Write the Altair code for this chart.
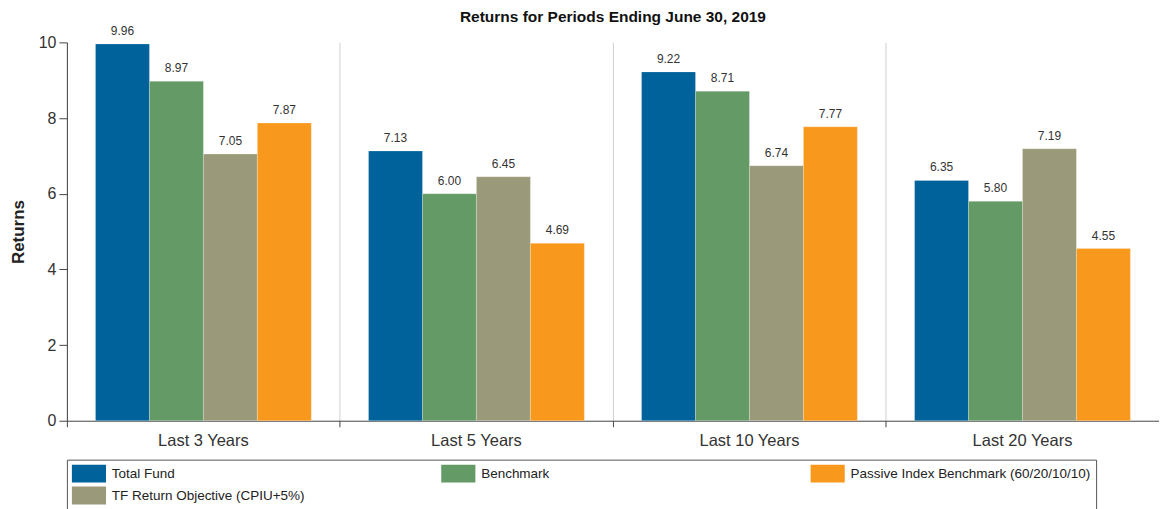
import altair as alt
import pandas as pd

periods = ["Last 3 Years", "Last 5 Years", "Last 10 Years", "Last 20 Years"]
series = [
    "Total Fund",
    "Benchmark",
    "TF Return Objective (CPIU+5%)",
    "Passive Index Benchmark (60/20/10/10)",
]
total_fund = [9.96, 7.13, 9.22, 6.35]
benchmark = [8.97, 6.00, 8.71, 5.80]
tf_objective = [7.05, 6.45, 6.74, 7.19]
passive = [7.87, 4.69, 7.77, 4.55]
series_colors = ["#00629B", "#649A65", "#9A9A7A", "#F8991E"]
y_ticks = [0, 2, 4, 6, 8, 10]

values_by_series = [total_fund, benchmark, tf_objective, passive]
rows = []
for s, vals in zip(series, values_by_series):
    for p, v in zip(periods, vals):
        rows.append({"Period": p, "Series": s, "Return": v})
df = pd.DataFrame(rows)

legend_order = [series[0], series[1], series[3], series[2]]
legend_colors = [series_colors[0], series_colors[1], series_colors[3], series_colors[2]]

FONT = "Liberation Sans"

x_enc = alt.X(
    "Period:N",
    sort=periods,
    scale=alt.Scale(paddingInner=0, paddingOuter=0),
    axis=alt.Axis(
        title=None,
        labelAngle=0,
        bandPosition=0,
        grid=True,
        gridColor="#d0d0d0",
        gridWidth=1,
        ticks=True,
        tickSize=6,
        tickColor="#444",
        domainColor="#444",
        labelFontSize=16.5,
        labelFont=FONT,
        labelColor="#333",
        labelPadding=6,
    ),
)
xoff_enc = alt.XOffset(
    "Series:N", sort=series, scale=alt.Scale(paddingOuter=0.53, paddingInner=0)
)
y_enc = alt.Y(
    "Return:Q",
    scale=alt.Scale(domain=[0, 10], nice=False),
    axis=alt.Axis(
        title="Returns",
        values=y_ticks,
        grid=False,
        tickSize=8,
        tickColor="#444",
        domainColor="#444",
        labelFontSize=16,
        labelFont=FONT,
        labelColor="#333",
        labelPadding=3,
        titleFont=FONT,
        titleFontSize=17,
        titleFontWeight="bold",
        titleColor="#222",
        titlePadding=11,
    ),
)

bars = alt.Chart(df).mark_bar(stroke="white", strokeWidth=0.4, strokeOpacity=0.6).encode(
    x=x_enc,
    xOffset=xoff_enc,
    y=y_enc,
    color=alt.Color(
        "Series:N",
        scale=alt.Scale(domain=legend_order, range=legend_colors),
        legend=alt.Legend(
            title=None,
            orient="none",
            legendX=0,
            legendY=418,
            direction="horizontal",
            columns=3,
            gridAlign="all",
            columnPadding=89,
            rowPadding=4,
            symbolType="M-1,-1H2.8V1H-1Z",
            symbolSize=324,
            symbolStrokeWidth=0,
            symbolOpacity=1,
            labelFont=FONT,
            labelFontSize=13.5,
            labelColor="#222",
            labelOffset=22,
            labelLimit=400,
            padding=5,
            strokeColor="#555",
        ),
    ),
)

labels = alt.Chart(df).mark_text(
    dy=-13, fontSize=12, font=FONT, color="#333", baseline="middle"
).encode(
    x=alt.X("Period:N", sort=periods),
    xOffset=alt.XOffset("Series:N", sort=series),
    y="Return:Q",
    text=alt.Text("Return:Q", format=".2f"),
)

chart = (
    alt.layer(bars, labels)
    .properties(
        width=1094,
        height=379,
        title=alt.Title(
            "Returns for Periods Ending June 30, 2019",
            font=FONT,
            fontSize=15.5,
            fontWeight="bold",
            color="#111",
            anchor="middle",
            offset=-1,
        ),
        padding={"left": 1, "top": 2, "right": 0, "bottom": 0},
    )
    .configure_view(stroke=None)
)

chart.save("out.html", embed_options={"renderer": "svg", "actions": False})
